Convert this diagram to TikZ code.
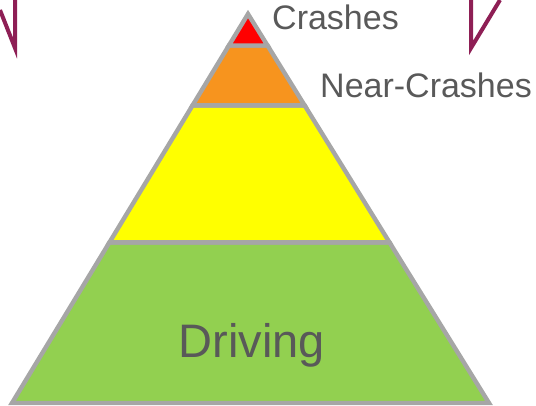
\documentclass[tikz,border=0pt]{standalone}
\usepackage{fontspec}
\setmainfont{Liberation Sans}
\usetikzlibrary{calc}

\definecolor{crashred}{HTML}{FF0000}
\definecolor{nearorange}{HTML}{F7941E}
\definecolor{midyellow}{HTML}{FFFF00}
\definecolor{drivegreen}{HTML}{92D050}
\definecolor{edgegray}{HTML}{A6A6A6}
\definecolor{textgray}{HTML}{595959}
\definecolor{bracketplum}{HTML}{8E1F55}

\tikzset{
  band/.style={draw=edgegray,line width=4.4pt},
  tierlabel/.style={text=textgray,inner sep=0pt},
  bracketline/.style={draw=bracketplum,line width=4pt}
}

\begin{document}
\begin{tikzpicture}[x=1pt,y=-1pt]
\useasboundingbox (0,0) rectangle (536,405);

% outer corners of the pyramid
\coordinate (top) at (248,14);
\coordinate (bl) at (12,403);
\coordinate (br) at (489,403);
% tier boundaries along both sides
\coordinate (l1) at ($(top)!0.081!(bl)$);
\coordinate (r1) at ($(top)!0.081!(br)$);
\coordinate (l2) at ($(top)!0.235!(bl)$);
\coordinate (r2) at ($(top)!0.235!(br)$);
\coordinate (l3) at ($(top)!0.587!(bl)$);
\coordinate (r3) at ($(top)!0.587!(br)$);

\draw[band,fill=drivegreen] (l3) -- (r3) -- (br) -- (bl) -- cycle;
\draw[band,fill=midyellow] (l2) -- (r2) -- (r3) -- (l3) -- cycle;
\draw[band,fill=nearorange] (l1) -- (r1) -- (r2) -- (l2) -- cycle;
\draw[band,fill=crashred] (top) -- (r1) -- (l1) -- cycle;

\node[tierlabel,anchor=base west,font=\fontsize{34}{40}\selectfont] (crashes) at (272,29.5) {Crashes};
\node[tierlabel,anchor=base west,font=\fontsize{34}{40}\selectfont] (nearcrashes) at (320,97.4) {Near-Crashes};
\node[tierlabel,anchor=base,font=\fontsize{47}{54}\selectfont] (driving) at (252,357) {Driving};

% ends of the brackets above
\draw[bracketline] (0,10) -- (15,48) -- (15,0);
\draw[bracketline] (471,0) -- (471,48) -- (500,0);
\end{tikzpicture}
\end{document}
